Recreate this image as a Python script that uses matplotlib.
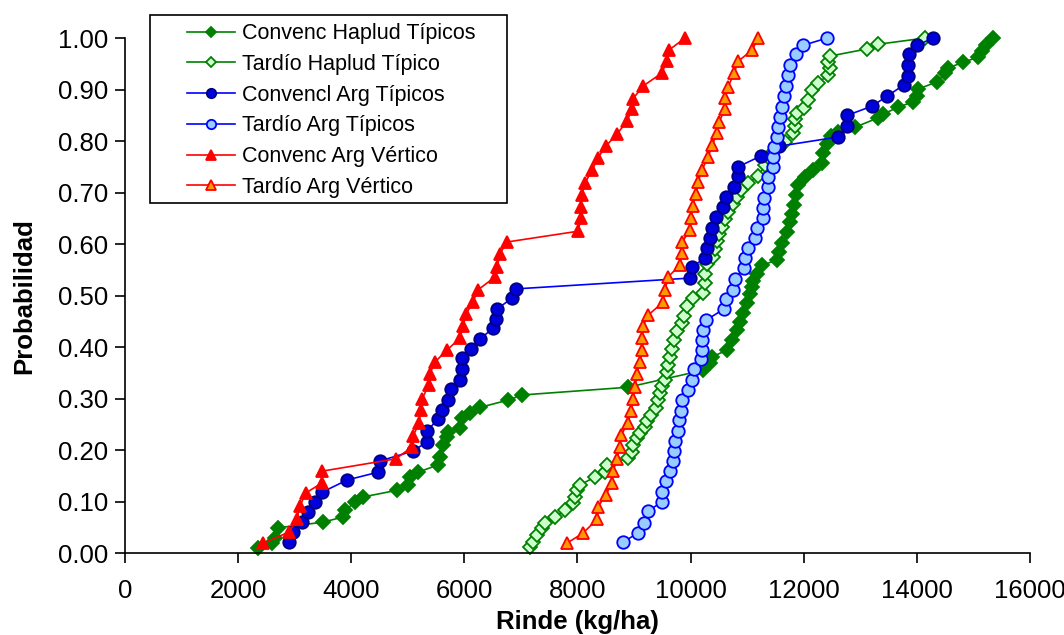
import numpy as np
import matplotlib.pyplot as plt
from matplotlib.patches import Rectangle
from matplotlib.ticker import FormatStrFormatter

plt.rcParams['font.family'] = ['Liberation Sans', 'DejaVu Sans']

# Convenc Haplud Típicos
conv_hap_x = [2350, 2600, 2650, 2700, 3500, 3850, 3890, 4070, 4210, 4810, 5000, 5040, 5180, 5530,
              5570, 5620, 5690, 5710, 5920, 5960, 6100, 6280, 6770, 7020, 8890, 10220, 10340, 10380,
              10640, 10730, 10820, 10870, 10930, 11000, 11050, 11090, 11100, 11170, 11260, 11530,
              11560, 11620, 11700, 11760, 11790, 11830, 11860, 11900, 12020, 12160, 12320, 12340,
              12410, 12480, 12610, 12910, 13310, 13400, 13670, 13930, 14000, 14020, 14360, 14500,
              14550, 14820, 15080, 15150, 15220, 15350]
conv_hap_y = [0.010, 0.019, 0.029, 0.049, 0.060, 0.070, 0.083, 0.099, 0.109, 0.122, 0.132, 0.148,
              0.157, 0.171, 0.186, 0.210, 0.225, 0.235, 0.243, 0.262, 0.272, 0.283, 0.297, 0.307,
              0.322, 0.355, 0.369, 0.381, 0.394, 0.414, 0.433, 0.449, 0.466, 0.485, 0.503, 0.517,
              0.528, 0.542, 0.559, 0.569, 0.584, 0.602, 0.623, 0.643, 0.658, 0.676, 0.695, 0.715,
              0.730, 0.744, 0.757, 0.777, 0.794, 0.810, 0.817, 0.827, 0.845, 0.852, 0.866, 0.876,
              0.887, 0.901, 0.915, 0.932, 0.942, 0.953, 0.963, 0.975, 0.986, 1.000]

# Tardío Haplud Típico
tard_hap_x = [7160, 7210, 7280, 7370, 7430, 7600, 7780, 7920, 7960, 7990, 8040, 8310, 8490, 8520,
              8890, 8960, 8980, 9050, 9110, 9190, 9230, 9300, 9390, 9420, 9460, 9490, 9550, 9580,
              9600, 9640, 9670, 9710, 9760, 9850, 9880, 9940, 10040, 10220, 10250, 10250, 10290,
              10400, 10430, 10470, 10500, 10560, 10610, 10660, 10750, 10820, 10890, 11020, 11190,
              11320, 11370, 11490, 11670, 11810, 11850, 11850, 11880, 12000, 12080, 12150, 12250,
              12430, 12460, 12430, 12460, 13120, 13310, 14140]
tard_hap_y = [0.012, 0.021, 0.035, 0.049, 0.058, 0.070, 0.083, 0.097, 0.109, 0.122, 0.132, 0.148,
              0.157, 0.171, 0.184, 0.196, 0.210, 0.223, 0.233, 0.245, 0.256, 0.268, 0.282, 0.297,
              0.311, 0.324, 0.336, 0.351, 0.365, 0.381, 0.396, 0.414, 0.431, 0.447, 0.460, 0.480,
              0.495, 0.505, 0.524, 0.542, 0.561, 0.575, 0.590, 0.606, 0.619, 0.633, 0.649, 0.662,
              0.678, 0.691, 0.705, 0.718, 0.732, 0.753, 0.769, 0.783, 0.798, 0.816, 0.829, 0.843,
              0.854, 0.864, 0.880, 0.899, 0.913, 0.928, 0.942, 0.953, 0.965, 0.979, 0.988, 1.000]

# Convencl Arg Típicos
conv_argt_x = [2900, 2970, 3130, 3240, 3360, 3480, 3930, 4470, 4510, 5090, 5340, 5340, 5530, 5600,
               5710, 5760, 5920, 5960, 5960, 6120, 6280, 6510, 6560, 6580, 6840, 6910, 9990, 10020,
               10250, 10290, 10340, 10380, 10450, 10570, 10630, 10770, 10840, 10840, 11240, 11560,
               12610, 12770, 12770, 13210, 13470, 13770, 13840, 13840, 13860, 14000, 14290]
conv_argt_y = [0.021, 0.041, 0.060, 0.080, 0.099, 0.118, 0.142, 0.157, 0.179, 0.198, 0.216, 0.237,
               0.260, 0.278, 0.297, 0.318, 0.336, 0.357, 0.379, 0.396, 0.416, 0.437, 0.454, 0.474,
               0.495, 0.513, 0.534, 0.555, 0.573, 0.592, 0.612, 0.631, 0.652, 0.672, 0.691, 0.711,
               0.732, 0.750, 0.771, 0.790, 0.808, 0.829, 0.850, 0.868, 0.887, 0.909, 0.926, 0.948,
               0.969, 0.986, 1.000]

# Tardío Arg Típicos
tard_argt_x = [8800, 9070, 9180, 9250, 9490, 9490, 9570, 9640, 9690, 9710, 9720, 9780, 9800, 9830,
               9850, 9950, 10020, 10060, 10180, 10200, 10200, 10220, 10270, 10590, 10630, 10750,
               10790, 10940, 10960, 11010, 11140, 11170, 11280, 11280, 11300, 11370, 11370, 11460,
               11460, 11470, 11530, 11550, 11580, 11620, 11650, 11690, 11720, 11760, 11860, 11990,
               12410]
tard_argt_y = [0.021, 0.039, 0.058, 0.082, 0.099, 0.118, 0.140, 0.159, 0.179, 0.198, 0.217, 0.237,
               0.258, 0.276, 0.297, 0.317, 0.336, 0.357, 0.377, 0.394, 0.414, 0.433, 0.452, 0.474,
               0.493, 0.511, 0.532, 0.553, 0.573, 0.592, 0.612, 0.631, 0.650, 0.670, 0.689, 0.711,
               0.730, 0.750, 0.769, 0.788, 0.808, 0.827, 0.847, 0.866, 0.887, 0.907, 0.928, 0.948,
               0.969, 0.986, 1.000]

# Convenc Arg Vértico
conv_argv_x = [2440, 2900, 3040, 3090, 3200, 3480, 3480, 4790, 5070, 5090, 5200, 5230, 5250, 5370,
               5390, 5480, 5690, 5920, 5980, 6030, 6150, 6240, 6540, 6580, 6630, 6750, 8010, 8060,
               8060, 8080, 8130, 8260, 8360, 8500, 8700, 8880, 8960, 8980, 9160, 9490, 9580, 9620,
               9900]
conv_argv_y = [0.019, 0.041, 0.066, 0.091, 0.117, 0.136, 0.159, 0.183, 0.206, 0.227, 0.252, 0.278,
               0.299, 0.326, 0.348, 0.371, 0.394, 0.417, 0.441, 0.464, 0.487, 0.511, 0.536, 0.555,
               0.581, 0.604, 0.625, 0.650, 0.672, 0.695, 0.718, 0.744, 0.767, 0.790, 0.814, 0.839,
               0.862, 0.882, 0.907, 0.932, 0.955, 0.977, 1.000]

# Tardío Arg Vértico
tard_argv_x = [7810, 8100, 8350, 8360, 8500, 8610, 8630, 8700, 8750, 8770, 8890, 8950, 8980, 9020,
               9050, 9110, 9140, 9140, 9160, 9250, 9510, 9550, 9600, 9810, 9850, 9850, 9990, 10010,
               10040, 10100, 10130, 10200, 10310, 10380, 10470, 10500, 10610, 10610, 10660, 10770,
               10840, 11090, 11190]
tard_argv_y = [0.019, 0.039, 0.066, 0.089, 0.113, 0.136, 0.159, 0.183, 0.206, 0.229, 0.252, 0.276,
               0.299, 0.322, 0.348, 0.371, 0.394, 0.417, 0.441, 0.462, 0.487, 0.511, 0.536, 0.559,
               0.583, 0.604, 0.627, 0.650, 0.674, 0.697, 0.720, 0.744, 0.769, 0.792, 0.816, 0.837,
               0.862, 0.883, 0.905, 0.932, 0.955, 0.977, 1.000]

fig = plt.figure(figsize=(10.64, 6.35), dpi=100)
ax = fig.add_axes([0.1175, 0.129, 0.8505, 0.811])

series = [
    (conv_hap_x, conv_hap_y, 'Convenc Haplud Típicos', '#008000', 'D', '#008000', '#008000', 7),
    (tard_hap_x, tard_hap_y, 'Tardío Haplud Típico', '#008000', 'D', '#CCFFCC', '#008000', 7),
    (conv_argt_x, conv_argt_y, 'Convencl Arg Típicos', '#0000FF', 'o', '#0000DD', '#000080', 9),
    (tard_argt_x, tard_argt_y, 'Tardío Arg Típicos', '#0000FF', 'o', '#99CCFF', '#0000FF', 9),
    (conv_argv_x, conv_argv_y, 'Convenc Arg Vértico', '#FF0000', '^', '#FF0000', '#FF0000', 9),
    (tard_argv_x, tard_argv_y, 'Tardío Arg Vértico', '#FF0000', '^', '#FF9900', '#FF0000', 9),
]

for xs, ys, lab, col, mk, fc, ec, ms in series:
    ax.plot(xs, ys, color=col, lw=1.2, marker=mk, markersize=ms, markerfacecolor=fc,
            markeredgecolor=ec, markeredgewidth=1.3, label=lab, clip_on=False)

ax.set_xlim(0, 16000)
ax.set_ylim(0, 1)
ax.set_xticks(np.arange(0, 16001, 2000))
ax.set_yticks(np.arange(0, 1.001, 0.1))
ax.yaxis.set_major_formatter(FormatStrFormatter('%.2f'))
ax.tick_params(direction='out', length=7, width=1.2, labelsize=18.5)
ax.tick_params(axis='x', pad=12)
ax.tick_params(axis='y', pad=5)
for s in ['top', 'right']:
    ax.spines[s].set_visible(False)
for s in ['left', 'bottom']:
    ax.spines[s].set_linewidth(1.2)

ax.set_xlabel('Rinde (kg/ha)', fontsize=18.5, fontweight='bold', labelpad=5)
ax.set_ylabel('Probabilidad', fontsize=18.5, fontweight='bold', labelpad=16)

# legend box drawn separately so the wide left margin matches the original
fig.patches.append(Rectangle((150 / 1064, 1 - 203 / 635), 357 / 1064, 188 / 635,
                             transform=fig.transFigure, fill=False, edgecolor='black',
                             lw=1.2, zorder=5))
handles, labels = ax.get_legend_handles_labels()
leg = fig.legend(handles, labels, loc='upper left', bbox_to_anchor=(183 / 1064, 1 - 19 / 635),
                 fontsize=15.5, frameon=False, handlelength=2.2, handletextpad=0.35,
                 borderpad=0.2, labelspacing=0.45, markerscale=0.75, borderaxespad=0)

fig.savefig('out.png', dpi=100)
